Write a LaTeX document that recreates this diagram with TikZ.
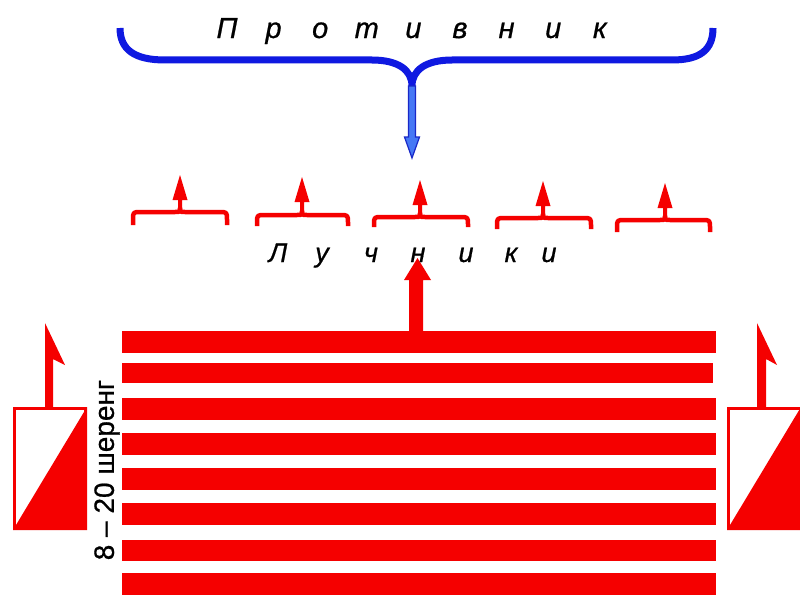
\documentclass[tikz,border=0pt]{standalone}
\usepackage{fontspec}
\setmainfont{Liberation Sans}
\newfontfamily\labelfont[FakeBold=0.7]{Liberation Sans}
\definecolor{braceblue}{RGB}{15,25,225}
\definecolor{arrowblue}{RGB}{70,120,245}
\definecolor{arrowedge}{RGB}{25,40,200}
\definecolor{myred}{RGB}{245,0,0}
\tikzset{
  bigbrace/.style={draw=braceblue,line width=7pt,line join=round},
  smallbrace/.style={draw=myred,line width=4.5pt,line join=round},
  redfill/.style={fill=myred},
  lettertop/.style={anchor=base,inner sep=0pt,font=\fontsize{29}{34}\labelfont\itshape},
  letterbot/.style={anchor=base,inner sep=0pt,font=\fontsize{27}{32}\labelfont\itshape},
  sidetext/.style={rotate=90,inner sep=0pt,font=\fontsize{28}{32}\labelfont}
}
\begin{document}
\begin{tikzpicture}[x=1pt,y=-1pt]
\useasboundingbox (0,0) rectangle (800,594);
\fill[white] (0,0) rectangle (800,594);

% ranks of soldiers
\foreach \t/\b/\r [count=\i] in {331/353/716,363/383/713,398/420/716,433/455/716,468/490/716,503/525/716,540/561/716,573/597/716}
  \fill[redfill] (122,\t) rectangle (\r,\b);

% big red arrow from the ranks
\coordinate (bigbase) at (416,331);
\fill[redfill] (409,331) -- (409,280) -- (404,280) -- (417.5,258) -- (431,280) -- (423,280) -- (423,331) -- cycle;

% side boxes with flags
\fill[redfill] (13,530) -- (87,407) -- (87,530) -- cycle;
\draw[myred,line width=3pt] (14.5,408.5) rectangle (85.5,528.5);
\fill[redfill] (45,409) -- (45,323) -- (65,365) -- (53,359) -- (53,409) -- cycle;

\fill[redfill] (727,530) -- (801,407) -- (801,530) -- cycle;
\draw[myred,line width=3pt] (728.5,408.5) rectangle (801.5,528.5);
\fill[redfill] (757,409) -- (757,323) -- (777,365) -- (766,359) -- (766,409) -- cycle;

% blue brace (enemy)
\coordinate (cusp) at (412,86);
\draw[bigbrace] (120,28) .. controls (120,50) and (135,60) .. (165,60) -- (372,60)
   .. controls (398,60) and (412,70) .. (cusp)
   .. controls (412,70) and (426,60) .. (452,60) -- (672,60)
   .. controls (700,60) and (713,50) .. (713,28);
\filldraw[fill=arrowblue,draw=arrowedge,line width=1.2pt]
   (408.5,86) -- (408.5,137) -- (404.5,137) -- (412,158) -- (419.5,137) -- (415.5,137) -- (415.5,86) -- cycle;

% small red braces (archers)
\foreach \L/\R/\C/\H/\B/\T in {133/227/180/212/225/175,257/348/302/215/226/177,374/468/420/217/227/180,497/591/543/218/229/181,617/710/665/220/232/183}{
  \draw[smallbrace] (\L,\B) -- (\L,\H+8) .. controls (\L,\H) .. (\L+8,\H) -- (\C-5,\H)
     .. controls (\C,\H) .. (\C,\H-4) .. controls (\C,\H) .. (\C+5,\H) -- (\R-8,\H)
     .. controls (\R,\H) .. (\R,\H+8) -- (\R,\B);
  \fill[redfill] (\C-2,\H-3) -- (\C-2,\T+25) -- (\C-7.5,\T+25) -- (\C,\T) -- (\C+7.5,\T+25) -- (\C+2,\T+25) -- (\C+2,\H-3) -- cycle;
}

% texts
\foreach \ch [count=\i] in {П,р,о,т,и,в,н,и,к}
  \node[lettertop] (top\i) at ({227+(\i-1)*46.6},38) {\ch};
\foreach \ch/\x [count=\i] in {Л/278,у/322,ч/371,н/418,и/466,к/511,и/549}
  \node[letterbot] (bot\i) at (\x,262) {\ch};
\node[sidetext] (ranks) at (107,470) {8 – 20 шеренг};
\end{tikzpicture}
\end{document}
